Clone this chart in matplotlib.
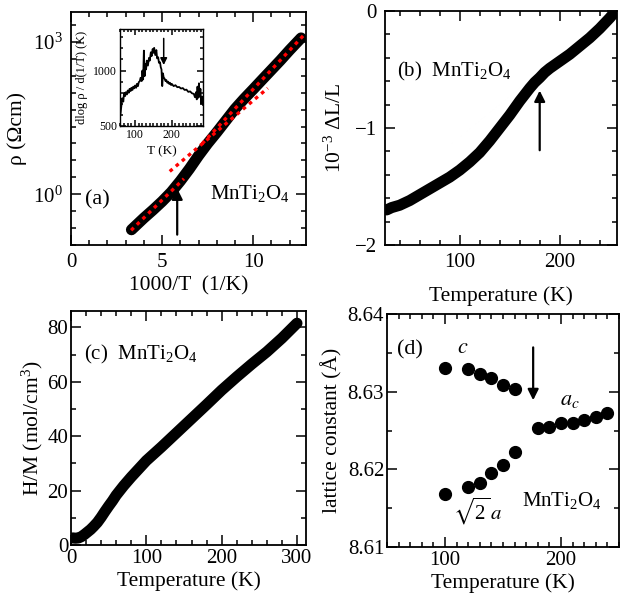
import numpy as np
import matplotlib
matplotlib.use("Agg")
import matplotlib.pyplot as plt
from matplotlib.ticker import FixedLocator, MultipleLocator, NullFormatter, LogFormatterSciNotation

plt.rcParams['font.family'] = ['Liberation Serif', 'DejaVu Serif']
plt.rcParams['mathtext.fontset'] = 'stix'
plt.rcParams['mathtext.default'] = 'regular'
plt.rcParams['font.size'] = 15

# (a) resistivity vs 1000/T
invT_a = [3.32, 4.0, 4.5, 5.0, 5.5, 6.0, 6.5, 7.0, 7.5, 8.0, 8.5, 9.0, 9.5,
          10.0, 10.5, 11.0, 11.5, 12.0, 12.63]
rho_a = [0.20, 0.34, 0.49, 0.72, 1.10, 1.82, 3.16, 5.75, 10.0, 16.6, 28.2, 47.9,
         75.9, 117, 182, 282, 437, 692, 1200]
fitA_x, fitA_rho = [3.3, 6.2], [0.195, 2.02]
fitB_x, fitB_rho = [5.42, 10.8], [2.82, 123]
fitC_x, fitC_rho = [7.2, 12.75], [9.9, 1330]

# inset: dlog rho / d(1/T)
T_in = [60, 63, 65, 68, 70, 73, 75, 78, 80, 83, 85, 88, 90, 93, 95, 98, 100, 103, 105, 108,
        110, 113, 115, 118, 120, 122, 124, 126, 128, 130, 132, 135, 138, 140, 143, 145, 148,
        150, 152, 155, 158, 160, 163, 165, 168, 170, 172, 174, 176, 178, 180, 183, 185, 188,
        190, 193, 195, 198, 200, 205, 210, 215, 220, 225, 230, 235, 240, 245, 250, 255, 260,
        263, 266, 268, 270, 272, 274, 276, 278, 280, 283, 285]
D_in = [600, 690, 750, 720, 800, 770, 805, 785, 820, 800, 835, 815, 845, 825, 855, 840, 865, 845, 880, 860,
        895, 905, 935, 905, 1000, 920, 1180, 950, 1060, 1010, 1090, 1045, 1115, 1090, 1165, 1130, 1195,
        1160, 1205, 1140, 1185, 1110, 1120, 1070, 1075, 1030, 1010, 860, 975, 935, 930, 905, 915, 890,
        900, 880, 890, 870, 880, 860, 868, 850, 852, 838, 842, 825, 828, 808, 812, 795, 790,
        760, 805, 740, 855, 755, 885, 765, 835, 700, 765, 690]

# (b) thermal expansion
T_b = [27, 32, 40, 45, 50, 60, 70, 80, 90, 100, 110, 120, 130, 140, 150, 160, 170, 175,
       180, 185, 190, 200, 210, 220, 230, 240, 250, 256]
dL_b = [-1.70, -1.68, -1.66, -1.64, -1.62, -1.57, -1.52, -1.47, -1.42, -1.36, -1.29, -1.21,
        -1.11, -1.00, -0.89, -0.77, -0.66, -0.61, -0.57, -0.525, -0.49, -0.43, -0.37, -0.30,
        -0.23, -0.15, -0.06, 0.0]

# (c) inverse susceptibility
T_c = [2, 6, 10, 14, 18, 22, 26, 30, 35, 40, 45, 50, 55, 60, 70, 80, 90, 100, 120, 140,
       160, 180, 200, 220, 240, 260, 280, 300]
HM_c = [2.6, 2.5, 2.6, 3.1, 3.9, 4.8, 5.7, 6.8, 8.3, 10.2, 12.3, 14.3, 16.2, 18.3, 21.8,
        25.0, 28.0, 31.0, 36.0, 41.2, 46.4, 51.6, 56.9, 61.8, 66.5, 71.0, 76.0, 81.5]

# (d) lattice constants
T_low = [100, 120, 130, 140, 150, 160]
c_low = [8.6331, 8.6329, 8.6323, 8.6318, 8.6308, 8.6303]
a_low = [8.6168, 8.6177, 8.6182, 8.6195, 8.6206, 8.6222]
T_high = [180, 190, 200, 210, 220, 230, 240]
ac_high = [8.6253, 8.6254, 8.6260, 8.6260, 8.6264, 8.6267, 8.6273]

W, H = 628, 599
fig = plt.figure(figsize=(W / 100, H / 100), dpi=100)


def box(l, t, r, b):
    return [l / W, 1 - b / H, (r - l) / W, (b - t) / H]


def style(ax, major=7, minor=3.5):
    ax.tick_params(which='both', direction='in', top=True, right=True, width=1.1)
    ax.tick_params(which='major', length=major, pad=6)
    ax.tick_params(which='minor', length=minor)
    for s in ax.spines.values():
        s.set_linewidth(1.3)


arrow = dict(arrowstyle='-|>', color='black', lw=1.6, mutation_scale=16, shrinkA=0, shrinkB=0)
LS = 15.5

# ---- (a)
ax = fig.add_axes(box(71, 12, 306, 245))
ax.plot(invT_a, rho_a, color='black', lw=8, solid_capstyle='round')
for fx, fy in [(fitA_x, fitA_rho), (fitB_x, fitB_rho), (fitC_x, fitC_rho)]:
    ax.plot(fx, fy, color='red', lw=2.4, linestyle=(0, (1.1, 1.3)))
ax.set_yscale('log')
ax.set_xlim(0, 12.9)
ax.set_ylim(0.1, 3900)
ax.yaxis.set_major_locator(FixedLocator([1, 1000]))
ax.yaxis.set_major_formatter(LogFormatterSciNotation())
ax.yaxis.set_minor_locator(FixedLocator([10 ** (k / 3) for k in range(-3, 12) if k % 9 != 0]))
ax.yaxis.set_minor_formatter(NullFormatter())
ax.xaxis.set_major_locator(MultipleLocator(5))
ax.xaxis.set_minor_locator(MultipleLocator(1))
style(ax)
ax.set_xlabel('1000/T  (1/K)', fontsize=LS, labelpad=3)
ax.set_ylabel('ρ (Ωcm)', fontsize=LS, labelpad=4)
ax.text(0.75, 0.78, '(a)', va='center', ha='left', fontsize=16)
ax.text(12.0, 1.05, 'MnTi$_2$O$_4$', va='center', ha='right', fontsize=15)
ax.annotate('', xy=(5.83, 1.3), xytext=(5.83, 0.16), arrowprops=arrow)

# inset
ins = fig.add_axes(box(120, 29, 203, 126))
ins.plot(T_in, D_in, color='black', lw=1.3)
ins.set_xlim(59, 285)
ins.set_ylim(500, 1375)
ins.xaxis.set_major_locator(FixedLocator([100, 200]))
ins.xaxis.set_minor_locator(MultipleLocator(10))
ins.yaxis.set_major_locator(FixedLocator([500, 1000]))
ins.yaxis.set_minor_locator(MultipleLocator(100))
style(ins, major=4, minor=2)
ins.tick_params(labelsize=8.5, pad=2)
for s in ins.spines.values():
    s.set_linewidth(1.0)
ins.set_xlabel('T (K)', fontsize=9.5, labelpad=3)
ins.set_ylabel('dlog ρ / d(1/T) (K)', fontsize=9)
ins.yaxis.set_label_coords(-0.39, 0.5)
ins.annotate('', xy=(178, 1050), xytext=(178, 1290),
             arrowprops=dict(arrowstyle='-|>', color='black', lw=1.1, mutation_scale=10,
                             shrinkA=0, shrinkB=0))

# ---- (b)
ax = fig.add_axes(box(385, 11, 617, 245))
ax.plot(T_b, dL_b, color='black', lw=8, solid_capstyle='round')
ax.set_xlim(25.3, 257.3)
ax.set_ylim(-2, 0)
ax.xaxis.set_major_locator(FixedLocator([100, 200]))
ax.xaxis.set_minor_locator(MultipleLocator(20))
ax.yaxis.set_major_locator(MultipleLocator(1))
ax.yaxis.set_minor_locator(MultipleLocator(0.2))
ax.yaxis.set_major_formatter(plt.FuncFormatter(lambda v, p: '\u2212%d' % round(-v) if v < 0 else '0'))
style(ax)
ax.set_xlabel('Temperature (K)', fontsize=LS, labelpad=10)
ax.set_ylabel('10$^{-3}$ ΔL/L', fontsize=LS, labelpad=6)
ax.text(37, -0.52, '(b)  MnTi$_2$O$_4$', va='center', ha='left', fontsize=15)
ax.annotate('', xy=(180, -0.68), xytext=(180, -1.19), arrowprops=arrow)

# ---- (c)
ax = fig.add_axes(box(71, 311, 306, 545))
ax.plot(T_c, HM_c, color='black', lw=8, solid_capstyle='round')
ax.set_xlim(0, 312)
ax.set_ylim(0, 86)
ax.xaxis.set_major_locator(MultipleLocator(100))
ax.xaxis.set_minor_locator(MultipleLocator(20))
ax.yaxis.set_major_locator(MultipleLocator(20))
ax.yaxis.set_minor_locator(MultipleLocator(10))
style(ax)
ax.tick_params(axis='x', which='major', pad=3)
ax.tick_params(axis='y', which='major', pad=2)
ax.set_xlabel('Temperature (K)', fontsize=LS, labelpad=2)
ax.set_ylabel('H/M (mol/cm$^3$)', fontsize=LS, labelpad=2)
ax.text(17, 70, '(c)  MnTi$_2$O$_4$', va='center', ha='left', fontsize=15)

# ---- (d)
ax = fig.add_axes(box(387, 314, 619, 547))
ms = 8.5
ax.plot(T_low, c_low, 'o', color='black', ms=ms)
ax.plot(T_low, a_low, 'o', color='black', ms=ms)
ax.plot(T_high, ac_high, 'o', color='black', ms=ms)
ax.set_xlim(50, 250)
ax.set_ylim(8.61, 8.64)
ax.xaxis.set_major_locator(FixedLocator([100, 200]))
ax.xaxis.set_minor_locator(MultipleLocator(10))
ax.yaxis.set_major_locator(MultipleLocator(0.01))
ax.yaxis.set_minor_locator(MultipleLocator(0.005))
ax.yaxis.set_major_formatter(plt.FuncFormatter(lambda v, p: '%.2f' % v))
style(ax)
ax.tick_params(axis='x', which='major', pad=3)
ax.tick_params(axis='y', which='major', pad=2)
ax.set_xlabel('Temperature (K)', fontsize=LS, labelpad=2)
ax.set_ylabel('lattice constant (Å)', fontsize=LS, labelpad=4)
ax.text(59, 8.6354, '(d)', va='center', ha='left', fontsize=16)
ax.text(115, 8.6356, r'$\mathit{c}$', va='center', ha='center', fontsize=16)
ax.text(199, 8.6289, r'$\mathit{a}_\mathit{c}$', va='center', ha='left', fontsize=16)
ax.text(166, 8.6160, 'MnTi$_2$O$_4$', va='center', ha='left', fontsize=15)
ax.text(107, 8.6146, r'$\sqrt{2}\,\mathit{a}$', va='center', ha='left', fontsize=15)
ax.annotate('', xy=(176, 8.6289), xytext=(176, 8.6357), arrowprops=arrow)

fig.savefig('out.png', dpi=100)
